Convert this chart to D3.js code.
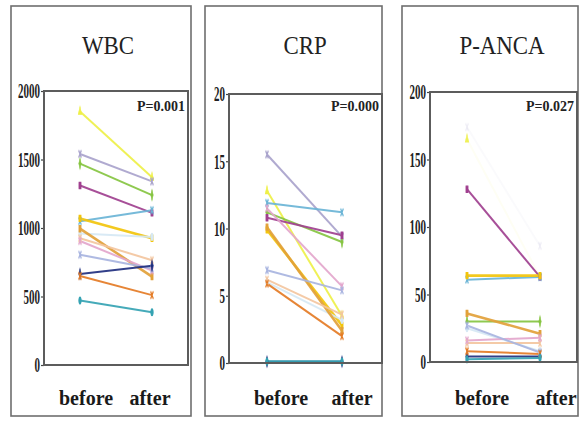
<!DOCTYPE html>
<html><head><meta charset="utf-8">
<script src="https://cdn.jsdelivr.net/npm/d3@7"></script>
<style>
html,body{margin:0;padding:0;background:#fff;}
svg{display:block;}
</style></head>
<body>
<svg id="c" width="580" height="425"></svg>
<script>
// ---------- DATA ----------
const groups = ["before", "after"];
const titles = ["WBC", "CRP", "P-ANCA"];
const pValues = ["P=0.001", "P=0.000", "P=0.027"];
const wbcTicks = [0, 500, 1000, 1500, 2000];
const crpTicks = [0, 5, 10, 15, 20];
const ancaTicks = [0, 50, 100, 150, 200];
const wbcTickLabels = ["0", "500", "1000", "1500", "2000"];
const crpTickLabels = ["0", "5", "10", "15", "20"];
const ancaTickLabels = ["0", "50", "100", "150", "200"];

// one entry per patient (same order in every panel)
const wbcBefore  = [1850, 1540, 1470, 1310, 1050, 1070, 960, 995, 925, 905, 805, 665, 650, 470];
const wbcAfter   = [1370, 1340, 1240, 1110, 1130, 925, 935, 645, 765, 690, 705, 725, 510, 385];
const crpBefore  = [12.8, 15.5, 11.2, 10.8, 11.9, 9.9, 6.0, 10.1, 6.2, 11.5, 6.9, 0.1, 5.9, 0.1];
const crpAfter   = [3.5, 9.4, 9.0, 9.5, 11.2, 2.8, 3.2, 2.4, 3.6, 5.7, 5.4, 0.1, 2.0, 0.1];
const ancaBefore = [165, 174, 30, 128, 61, 64, 25, 36, 14, 16, 27, 4, 8, 2];
const ancaAfter  = [63, 86, 30, 63, 63, 64, 8, 21, 14, 18, 7, 4, 6, 3];

// ---------- STYLE ----------
const colors = ["#eef048", "#a9a3cc", "#86c441", "#a0408f", "#6ab4d6", "#f2c40c", "#d6e8f4",
                "#e2a13a", "#f3c6a0", "#e3a6cc", "#a8b4e0", "#1f2f7f", "#e47b25", "#35a3b3"];
const shapes = ["tri", "x", "dia", "sq", "x", "sq", "cir", "sq", "x", "x", "x", "dia", "x", "cir"];
const faintAnca = [0, 1]; // series whose lines are washed out in the P-ANCA panel

const panels = [
  {outer:[11,6,191,416], inner:[44,91,188,365], xr:[80,152], lab:[86,150], title:108,
   ticks:wbcTicks, labels:wbcTickLabels, dom:[0,2000], before:wbcBefore, after:wbcAfter},
  {outer:[205,6,382,416], inner:[229,94,382,363], xr:[267,342], lab:[281,352], title:305,
   ticks:crpTicks, labels:crpTickLabels, dom:[0,20], before:crpBefore, after:crpAfter},
  {outer:[402,6,578,416], inner:[430,92,577,362], xr:[467,540], lab:[482,556], title:502,
   ticks:ancaTicks, labels:ancaTickLabels, dom:[0,200], before:ancaBefore, after:ancaAfter}
];

const svg = d3.select("#c");
const serif = "'Liberation Serif','Times New Roman',serif";
const symX = d3.symbolTimes || d3.symbolCross;
const symMap = {tri:d3.symbolTriangle, x:symX, dia:d3.symbolDiamond, sq:d3.symbolSquare, cir:d3.symbolCircle};

panels.forEach((p, pi) => {
  const g = svg.append("g");
  const [ox0, oy0, ox1, oy1] = p.outer;
  const [ix0, iy0, ix1, iy1] = p.inner;
  g.append("rect").attr("x", ox0).attr("y", oy0).attr("width", ox1-ox0).attr("height", oy1-oy0)
    .attr("fill", "#fff").attr("stroke", "#6e6e6e").attr("stroke-width", 1.6);

  const y = d3.scaleLinear().domain(p.dom).range([iy1, iy0]);
  const x = d3.scalePoint().domain(groups).range(p.xr);

  // title
  g.append("text").attr("x", p.title).attr("y", 54).attr("text-anchor", "middle")
    .attr("font-family", serif).attr("font-size", 26).attr("fill", "#222")
    .attr("transform", `translate(${p.title},0) scale(0.88,1) translate(${-p.title},0)`)
    .text(titles[pi]);

  // y axis
  const ax = g.append("g").attr("transform", `translate(${ix0},0)`)
    .call(d3.axisLeft(y).tickValues(p.ticks).tickSize(3).tickFormat((d, i) => p.labels[i]));
  ax.select(".domain").remove();
  ax.selectAll(".tick line").attr("stroke", "#444").attr("stroke-width", 1.2);
  ax.selectAll(".tick text")
    .attr("font-family", serif).attr("font-weight", "bold").attr("font-size", 20)
    .attr("fill", "#222").attr("x", -4 / 0.55).attr("dy", "0.34em")
    .attr("transform", "scale(0.55,1)");

  // lines
  const lineGen = d3.line().x(d => x(d.g)).y(d => y(d.v));
  const series = p.before.map((b, i) => ({i, pts:[{g:groups[0], v:b}, {g:groups[1], v:p.after[i]}]}));
  const sg = g.append("g");
  series.forEach(s => {
    const faint = pi === 2 && faintAnca.includes(s.i);
    const thick = (s.i === 5 || s.i === 7) ? 2.6 : ((s.i === 13 && pi === 1) ? 3 : 2);
    sg.append("path").attr("d", lineGen(s.pts)).attr("fill", "none")
      .attr("stroke", colors[s.i]).attr("stroke-width", thick)
      .attr("opacity", faint ? 0.06 : 0.92);
  });
  series.forEach(s => {
    const faint = pi === 2 && faintAnca.includes(s.i);
    s.pts.forEach((pt, k) => {
      const sh = shapes[s.i];
      const isStroke = sh === "x";
      let op = 1;
      if (faint) op = (s.i === 0 && k === 0) ? 0.9 : (s.i === 0 ? 0 : 0.18);
      sg.append("path")
        .attr("d", d3.symbol().type(symMap[sh]).size(isStroke ? 22 : 20)())
        .attr("transform", `translate(${x(pt.g)},${y(pt.v)}) scale(0.5,1.35)`)
        .attr("fill", isStroke ? "none" : colors[s.i])
        .attr("stroke", colors[s.i]).attr("stroke-width", isStroke ? 2 : 1)
        .attr("opacity", op);
    });
  });

  // inner frame
  g.append("rect").attr("x", ix0).attr("y", iy0).attr("width", ix1-ix0).attr("height", iy1-iy0)
    .attr("fill", "none").attr("stroke", "#5c5c5c").attr("stroke-width", 2);

  // p value
  g.append("text").attr("x", ix1 - 3).attr("y", 111).attr("text-anchor", "end")
    .attr("font-family", serif).attr("font-weight", "bold").attr("font-size", 14).attr("fill", "#222")
    .text(pValues[pi]);

  // group labels
  groups.forEach((gr, k) => {
    g.append("text").attr("x", p.lab[k]).attr("y", 405).attr("text-anchor", "middle")
      .attr("font-family", serif).attr("font-weight", "bold").attr("font-size", 20).attr("fill", "#1a1a1a")
      .text(gr);
  });
});
</script>
</body></html>
